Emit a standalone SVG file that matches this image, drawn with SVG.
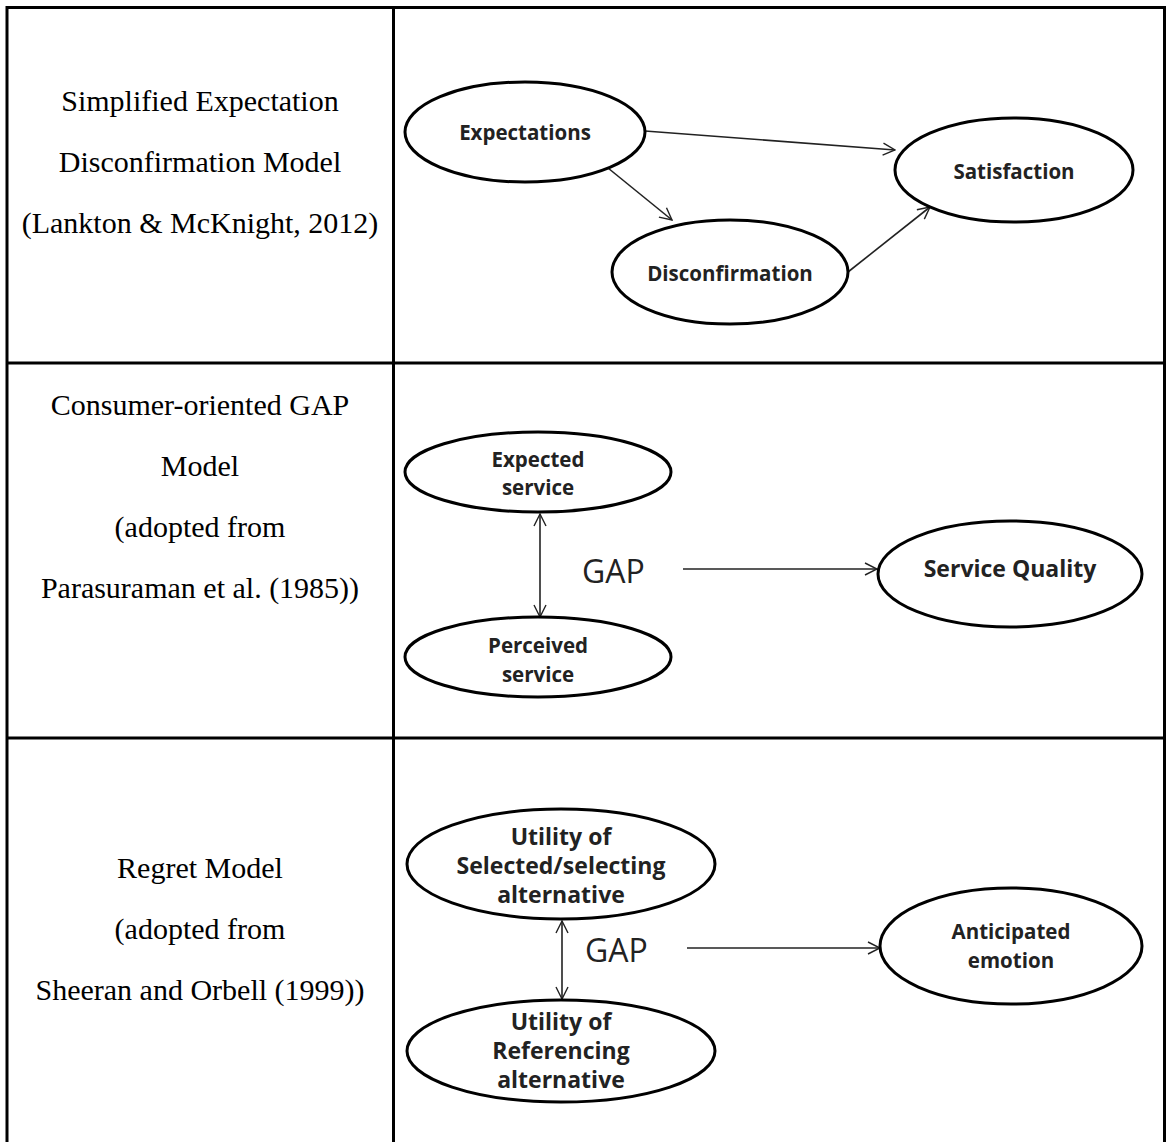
<svg xmlns="http://www.w3.org/2000/svg" width="1166" height="1142" viewBox="0 0 1166 1142">
<defs>
<marker id="arr" viewBox="0 0 14 14" refX="13" refY="7" markerWidth="14" markerHeight="14" markerUnits="userSpaceOnUse" orient="auto-start-reverse">
<path d="M1,1 L13,7 L1,13" fill="none" stroke="#222" stroke-width="1.4"/>
</marker>
<style>
.grid{stroke:#000;stroke-width:3;fill:none}
.cap{font-family:"Liberation Serif","Times New Roman",serif;font-size:30px;fill:#000;text-anchor:middle}
.node{fill:#fff;stroke:#000;stroke-width:3}
.lbl{font-family:"Open Sans","Noto Sans",sans-serif;font-weight:700;font-size:20.5px;fill:#222;text-anchor:middle}
.big{font-size:23px}
.gap{font-family:"Open Sans","Noto Sans",sans-serif;font-size:32px;fill:#222}
.conn{stroke:#222;stroke-width:1.6;fill:none;marker-end:url(#arr)}
.both{marker-start:url(#arr)}
</style>
</defs>
<rect width="1166" height="1142" fill="#fff"/>
<g id="table">
<path class="grid" d="M7,1142 V7.5 H1164.5 V1142 M393.5,7 V1142 M7,363 H1164 M7,738 H1164"/>
</g>
<g id="captions">
<text class="cap" x="200" y="111">Simplified Expectation</text>
<text class="cap" x="200" y="172">Disconfirmation Model</text>
<text class="cap" x="200" y="233">(Lankton &amp; McKnight, 2012)</text>
<text class="cap" x="200" y="415">Consumer-oriented GAP</text>
<text class="cap" x="200" y="476">Model</text>
<text class="cap" x="200" y="537">(adopted from</text>
<text class="cap" x="200" y="598">Parasuraman et al. (1985))</text>
<text class="cap" x="200" y="878">Regret Model</text>
<text class="cap" x="200" y="939">(adopted from</text>
<text class="cap" x="200" y="1000">Sheeran and Orbell (1999))</text>
</g>
<g id="connectors">
<line class="conn" x1="645" y1="131" x2="895" y2="150"/>
<line class="conn" x1="608" y1="168" x2="672" y2="220"/>
<line class="conn" x1="848" y1="272" x2="930" y2="207"/>
<line class="conn both" x1="540" y1="514" x2="540" y2="617"/>
<line class="conn" x1="683" y1="569" x2="877" y2="569"/>
<line class="conn both" x1="562" y1="921" x2="562" y2="999"/>
<line class="conn" x1="687" y1="948" x2="880" y2="948"/>
</g>
<g id="expectations">
<ellipse class="node" cx="525" cy="132" rx="120" ry="50"/>
<text class="lbl" x="525" y="140">Expectations</text>
</g>
<g id="disconfirmation">
<ellipse class="node" cx="730" cy="272" rx="118" ry="52"/>
<text class="lbl" x="730" y="281">Disconfirmation</text>
</g>
<g id="satisfaction">
<ellipse class="node" cx="1014" cy="170" rx="119" ry="52"/>
<text class="lbl" x="1014" y="179">Satisfaction</text>
</g>
<g id="expected-service">
<ellipse class="node" cx="538" cy="472" rx="133" ry="40"/>
<text class="lbl" x="538" y="467">Expected</text>
<text class="lbl" x="538" y="495">service</text>
</g>
<g id="perceived-service">
<ellipse class="node" cx="538" cy="657" rx="133" ry="40"/>
<text class="lbl" x="538" y="653">Perceived</text>
<text class="lbl" x="538" y="682">service</text>
</g>
<g id="gap1"><text class="gap" x="582" y="583">GAP</text></g>
<g id="service-quality">
<ellipse class="node" cx="1010" cy="574" rx="132" ry="53"/>
<text class="lbl big" x="1010" y="577">Service Quality</text>
</g>
<g id="utility-selected">
<ellipse class="node" cx="561" cy="864" rx="154" ry="55"/>
<text class="lbl big" x="561" y="845">Utility of</text>
<text class="lbl big" x="561" y="874">Selected/selecting</text>
<text class="lbl big" x="561" y="903">alternative</text>
</g>
<g id="utility-referencing">
<ellipse class="node" cx="561" cy="1051" rx="154" ry="51"/>
<text class="lbl big" x="561" y="1030">Utility of</text>
<text class="lbl big" x="561" y="1059">Referencing</text>
<text class="lbl big" x="561" y="1088">alternative</text>
</g>
<g id="gap2"><text class="gap" x="585" y="962">GAP</text></g>
<g id="anticipated-emotion">
<ellipse class="node" cx="1011" cy="946" rx="131" ry="58"/>
<text class="lbl" x="1011" y="939">Anticipated</text>
<text class="lbl" x="1011" y="968">emotion</text>
</g>
</svg>
